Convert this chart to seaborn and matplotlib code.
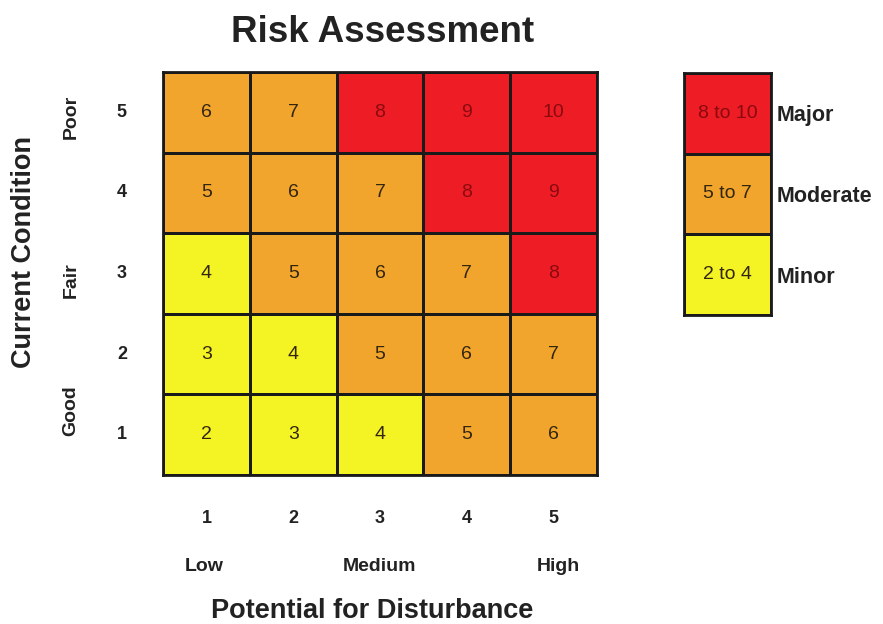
import matplotlib
matplotlib.use("Agg")
import matplotlib.pyplot as plt
import seaborn as sns
import numpy as np
import pandas as pd
from matplotlib.colors import ListedColormap, BoundaryNorm

sns.set_theme(style="white")
plt.rcParams['font.family'] = ['Liberation Sans', 'DejaVu Sans']

# Data
disturbance = [1, 2, 3, 4, 5]
condition = [5, 4, 3, 2, 1]  # top to bottom
risk = [
    [6, 7, 8, 9, 10],
    [5, 6, 7, 8, 9],
    [4, 5, 6, 7, 8],
    [3, 4, 5, 6, 7],
    [2, 3, 4, 5, 6],
]
disturbance_labels = ["Low", "Medium", "High"]
condition_labels = ["Poor", "Fair", "Good"]
legend_ranges = ["8 to 10", "5 to 7", "2 to 4"]
legend_names = ["Major", "Moderate", "Minor"]
legend_values = [9, 6, 3]

colors = ["#F4F424", "#F2A52C", "#EE1C24"]
cmap = ListedColormap(colors)
norm = BoundaryNorm([1.5, 4.5, 7.5, 10.5], cmap.N)

fig = plt.figure(figsize=(8.83, 6.24), dpi=100)
ax = fig.add_axes([163/883, 1-475/624, (597-163)/883, (475-72)/624])
df = pd.DataFrame(risk, index=condition, columns=disturbance)
sns.heatmap(df, ax=ax, cmap=cmap, norm=norm, cbar=False, annot=True, fmt="d",
            linewidths=2, linecolor="#1a1a1a",
            annot_kws={"fontsize": 14, "color": "#33260e"})
for t in ax.texts:
    if int(t.get_text()) >= 8:
        t.set_color("#8a0a10")
for s in ax.spines.values():
    s.set_visible(True)
    s.set_color("#1a1a1a")
    s.set_linewidth(2)

ax.tick_params(axis='both', length=0)
ax.set_xticklabels([str(d) for d in disturbance], fontsize=13, fontweight='bold', color="#222222")
ax.set_yticklabels([str(c) for c in condition], fontsize=13, fontweight='bold', color="#222222", rotation=0)
ax.tick_params(axis='x', pad=25)
ax.tick_params(axis='y', pad=26)
ax.set_xlabel("")
ax.set_ylabel("")

for lab, xpos in zip(disturbance_labels, [0.48, 2.5, 4.56]):
    ax.text(xpos, 6.13, lab, ha='center', va='center', fontsize=14, fontweight='bold',
            color="#222222", clip_on=False)
for lab, ypos in zip(condition_labels, [0.56, 2.58, 4.2]):
    ax.text(-1.06, ypos, lab, ha='center', va='center', fontsize=14, fontweight='bold',
            rotation=90, color="#222222", clip_on=False)

fig.text(372/883, 1-618/624, "Potential for Disturbance", ha='center', va='baseline',
         fontsize=19.5, fontweight='bold', color="#222222")
fig.text(24/883, 1-252/624, "Current Condition", ha='center', va='center',
         fontsize=19.5, fontweight='bold', rotation=90, color="#222222")
fig.text(383/883, 1-42/624, "Risk Assessment", ha='center', va='baseline',
         fontsize=26.5, fontweight='bold', color="#222222")

# Legend
lax = fig.add_axes([684/883, 1-315/624, (771-684)/883, (315-73)/624])
ldf = pd.DataFrame({"v": legend_values}, index=legend_names)
annot = np.array(legend_ranges).reshape(-1, 1)
sns.heatmap(ldf, ax=lax, cmap=cmap, norm=norm, cbar=False, annot=annot, fmt="",
            linewidths=2, linecolor="#1a1a1a",
            annot_kws={"fontsize": 14, "color": "#33260e"})
lax.texts[0].set_color("#8a0a10")
for s in lax.spines.values():
    s.set_visible(True)
    s.set_color("#1a1a1a")
    s.set_linewidth(2)
lax.set_xticks([])
lax.yaxis.tick_right()
lax.set_yticklabels(legend_names, rotation=0, fontsize=15.5, fontweight='bold', color="#222222")
lax.tick_params(axis='y', length=0, pad=4)
lax.set_xlabel("")
lax.set_ylabel("")

fig.savefig("out.png", dpi=100)
